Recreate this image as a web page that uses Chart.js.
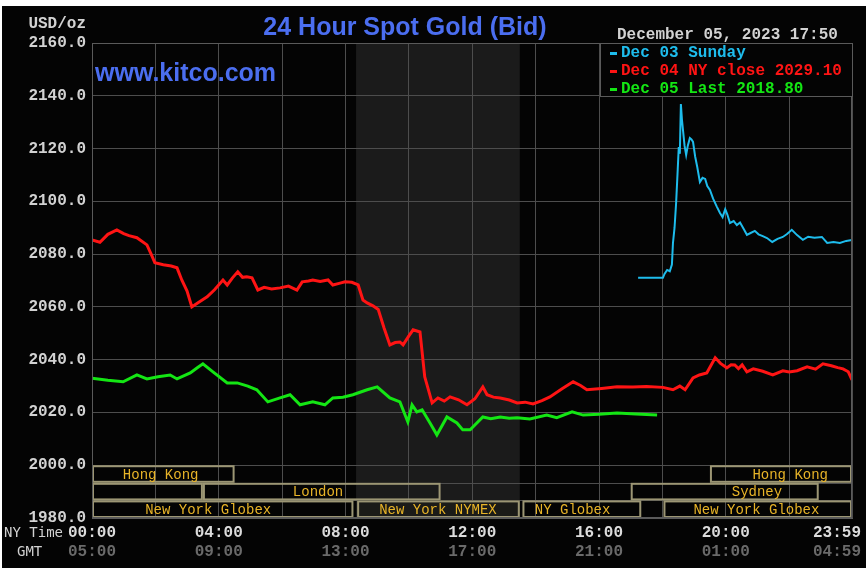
<!DOCTYPE html>
<html>
<head>
<meta charset="utf-8">
<script src="https://cdn.jsdelivr.net/npm/chart.js@4.4.1/dist/chart.umd.min.js"></script>
<style>
  html, body { margin: 0; padding: 0; background: #fff; }
  canvas { display: block; }
</style>
</head>
<body>
<canvas id="goldChart" width="868" height="577"></canvas>
<script>
// --- data (x = minutes after NY midnight) ---
const yTicks = [1980, 2000, 2020, 2040, 2060, 2080, 2100, 2120, 2140, 2160];
const gridMinutes = [0, 120, 240, 360, 480, 600, 720, 840, 960, 1080, 1200, 1320, 1439];
const labelMinutes = [0, 240, 480, 720, 960, 1200, 1439];
const nyTimeLabels = ['00:00', '04:00', '08:00', '12:00', '16:00', '20:00', '23:59'];
const gmtLabels = ['05:00', '09:00', '13:00', '17:00', '21:00', '01:00', '04:59'];

const sundayMinutes = [1034, 1081, 1084, 1089, 1094, 1098, 1100, 1103, 1106, 1109, 1111, 1113, 1115, 1117, 1119, 1122, 1125, 1128, 1132, 1135, 1138, 1142, 1146, 1151, 1156, 1161, 1165, 1170, 1176, 1183, 1189, 1194, 1199, 1203, 1208, 1215, 1221, 1227, 1234, 1240, 1247, 1255, 1262, 1270, 1278, 1288, 1298, 1308, 1316, 1325, 1335, 1346, 1356, 1368, 1382, 1392, 1404, 1416, 1428, 1439];
const sundayValues = [2071, 2071, 2072.5, 2074, 2073.5, 2076, 2084.2, 2090, 2099.4, 2112, 2120.6, 2118, 2136.9, 2131, 2127, 2121, 2117.6, 2121, 2124, 2123.5, 2122.5, 2117, 2113, 2107.3, 2108.9, 2108.5, 2105.8, 2104.3, 2101, 2098, 2095.6, 2094, 2097, 2095, 2091.8, 2092.5, 2091, 2092, 2089.5, 2087.3, 2088, 2088.8, 2087.5, 2086.8, 2086.1, 2084.6, 2085.8, 2086.5, 2087.6, 2089.2, 2087.2, 2085.4, 2086.6, 2086.2, 2086.5, 2084.2, 2084.6, 2084.2, 2085, 2085.4];

const closeMinutes = [0, 15, 30, 47, 60, 70, 85, 104, 112, 119, 135, 150, 161, 170, 180, 189, 200, 218, 232, 248, 256, 266, 276, 285, 293, 303, 314, 326, 340, 356, 372, 388, 398, 410, 418, 432, 447, 456, 468, 479, 492, 504, 513, 521, 532, 542, 553, 564, 574, 583, 589, 600, 608, 621, 630, 644, 655, 667, 678, 694, 710, 725, 740, 748, 760, 773, 790, 805, 820, 835, 852, 867, 890, 911, 925, 937, 965, 994, 1024, 1050, 1081, 1100, 1113, 1123, 1138, 1150, 1164, 1180, 1190, 1202, 1210, 1217, 1224, 1231, 1240, 1252, 1270, 1289, 1308, 1320, 1335, 1354, 1370, 1384, 1400, 1412, 1422, 1432, 1439];
const closeValues = [2085.4, 2084.5, 2087.5, 2089.2, 2087.8, 2087, 2086.2, 2083.5, 2080, 2076.7, 2076, 2075.5, 2074.8, 2070.2, 2066, 2060, 2061.5, 2063.8, 2066.5, 2070.2, 2068.3, 2071, 2073.3, 2071.2, 2071.4, 2071, 2066.4, 2067.4, 2066.8, 2067.2, 2067.9, 2066.4, 2069.5, 2069.8, 2070.2, 2069.6, 2070.2, 2068.3, 2068.9, 2069.5, 2069.3, 2068.3, 2062.6, 2061.5, 2060.4, 2059, 2052, 2045.6, 2046.5, 2046.7, 2045.6, 2049, 2051.3, 2050.5, 2033.5, 2023.6, 2025.5, 2024.3, 2025.9, 2024.8, 2022.9, 2025.2, 2029.7, 2026.7, 2025.8, 2025.5, 2024.7, 2023.6, 2023.9, 2023.2, 2024.5, 2025.9, 2029, 2031.6, 2030.2, 2028.6, 2029.1, 2029.7, 2029.6, 2029.8, 2029.5, 2028.6, 2030, 2028.6, 2033.1, 2034.2, 2035, 2040.7, 2038.6, 2036.9, 2038.1, 2038, 2036.6, 2038, 2035.4, 2036.5, 2035.6, 2034.2, 2035.8, 2035.3, 2035.8, 2037.3, 2036.4, 2038.4, 2037.7, 2037, 2036.5, 2035.4, 2032.3];

const lastMinutes = [0, 30, 59, 85, 104, 125, 148, 161, 186, 200, 210, 229, 256, 275, 295, 312, 333, 356, 375, 394, 418, 441, 456, 475, 494, 521, 540, 564, 583, 598, 606, 615, 625, 640, 653, 672, 691, 702, 716, 740, 755, 773, 790, 805, 829, 861, 880, 909, 930, 960, 994, 1030, 1070];
const lastValues = [2033, 2032.2, 2031.6, 2034.2, 2032.7, 2033.5, 2034.2, 2032.7, 2035, 2037, 2038.4, 2035.4, 2031.2, 2031.2, 2030, 2028.6, 2024, 2025.5, 2026.7, 2022.9, 2024, 2022.9, 2025.5, 2025.8, 2026.7, 2028.6, 2029.7, 2025.5, 2024, 2016.4, 2022.9, 2020.2, 2021, 2016, 2011.5, 2018.3, 2016, 2013.4, 2013.4, 2018.3, 2017.6, 2018.3, 2017.8, 2018, 2017.5, 2019, 2018, 2020.2, 2019, 2019.3, 2019.8, 2019.4, 2019];

// trading sessions: rows 0..2 from top of the band under 2000
const sessionNames = ['Hong Kong', 'Hong Kong', '', 'London', 'Sydney', 'New York Globex', 'New York NYMEX', 'NY Globex', 'New York Globex'];
const sessionRows = [0, 0, 1, 1, 1, 2, 2, 2, 2];
const sessionStart = [0, 1170, 0, 210, 1020, 0, 502, 815, 1082];
const sessionEnd = [270, 1439, 210, 660, 1376, 495, 810, 1040, 1439];
const sessionTextAt = [130, 1322, 105, 428, 1259, 220, 655, 910, 1258];
const nymexShade = [500, 810];

const MONO = '"Liberation Mono", "DejaVu Sans Mono", monospace';

function toPoints(xs, ys) {
  return xs.map((x, i) => ({ x: x, y: ys[i] }));
}

const kitcoPlugin = {
  id: 'kitco',
  beforeDraw(chart) {
    const { ctx, chartArea: a, scales: { x } } = chart;
    ctx.save();
    ctx.fillStyle = '#040404';
    ctx.fillRect(2, 6, 864, 562);
    // NYMEX pit hours shading
    ctx.fillStyle = '#1b1b1b';
    const x0 = x.getPixelForValue(nymexShade[0]);
    const x1 = x.getPixelForValue(nymexShade[1]);
    ctx.fillRect(x0, a.top, x1 - x0, a.bottom - a.top);
    ctx.restore();
  },
  afterDraw(chart) {
    const { ctx, chartArea: a, scales: { x, y } } = chart;
    ctx.save();

    // session boxes
    const rowH = (y.getPixelForValue(1980) - y.getPixelForValue(2000)) / 3;
    const top0 = y.getPixelForValue(2000);
    ctx.strokeStyle = '#4d4d4d';
    ctx.lineWidth = 1;
    for (let r = 1; r < 3; r++) {
      ctx.beginPath();
      ctx.moveTo(a.left, Math.round(top0 + r * rowH) + 0.5);
      ctx.lineTo(a.right, Math.round(top0 + r * rowH) + 0.5);
      ctx.stroke();
    }
    ctx.font = '14px ' + MONO;
    ctx.textAlign = 'center';
    ctx.textBaseline = 'middle';
    sessionNames.forEach((name, i) => {
      const bx0 = x.getPixelForValue(sessionStart[i]);
      const bx1 = x.getPixelForValue(sessionEnd[i]);
      const by = top0 + sessionRows[i] * rowH;
      if (name === 'New York NYMEX') {
        ctx.fillStyle = '#1b1b18';
        ctx.fillRect(bx0, by, bx1 - bx0, rowH);
      }
      ctx.strokeStyle = '#9c9674';
      ctx.lineWidth = 2;
      ctx.strokeRect(bx0 + 1, by + 1, bx1 - bx0 - 2, rowH - 2);
      ctx.fillStyle = '#e8b428';
      ctx.fillText(name, x.getPixelForValue(sessionTextAt[i]), by + rowH / 2 + 1);
    });

    // frame
    ctx.strokeStyle = '#5a5a5a';
    ctx.lineWidth = 1;
    ctx.strokeRect(a.left + 0.5, a.top + 0.5, a.right - a.left - 1, a.bottom - a.top - 1);

    // titles
    ctx.textBaseline = 'alphabetic';
    ctx.fillStyle = '#4b6ef0';
    ctx.font = 'bold 25px "Liberation Sans", Arial, sans-serif';
    ctx.textAlign = 'center';
    ctx.fillText('24 Hour Spot Gold (Bid)', 405, 35);
    ctx.textAlign = 'left';
    ctx.fillText('www.kitco.com', 95, 81);

    ctx.font = 'bold 16px ' + MONO;
    ctx.fillStyle = '#d2d2d2';
    ctx.textAlign = 'right';
    ctx.fillText('USD/oz', 86, 28);
    ctx.textAlign = 'left';
    ctx.fillText('December 05, 2023 17:50', 617, 39);

    // legend box
    const lx = 600, ly = 43, lw = 253, lh = 54;
    ctx.fillStyle = '#040404';
    ctx.fillRect(lx, ly, lw, lh);
    ctx.strokeStyle = '#5a5a5a';
    ctx.strokeRect(lx + 0.5, ly + 0.5, lw - 1, lh - 1);
    ctx.textBaseline = 'middle';
    chart.data.datasets.forEach((ds, i) => {
      const ty = ly + 10 + i * 18;
      ctx.fillStyle = ds.borderColor;
      ctx.fillRect(lx + 10, ty - 1, 7, 3);
      ctx.fillText(ds.label, lx + 21, ty);
    });

    // time axis labels
    ctx.font = '14px "DejaVu Sans Mono", monospace';
    ctx.fillStyle = '#d2d2d2';
    ctx.textAlign = 'left';
    ctx.fillText('NY Time', 4, 533);
    ctx.fillText('GMT', 17, 552);
    ctx.font = 'bold 16px ' + MONO;
    labelMinutes.forEach((m, i) => {
      let px = x.getPixelForValue(m);
      if (i === labelMinutes.length - 1) {
        ctx.textAlign = 'right';
        px = 861;
      } else {
        ctx.textAlign = 'center';
      }
      ctx.fillStyle = '#dcdcdc';
      ctx.fillText(nyTimeLabels[i], px, 533);
      ctx.fillStyle = '#6a6a6a';
      ctx.fillText(gmtLabels[i], px, 552);
    });
    ctx.restore();
  }
};

const ctx = document.getElementById('goldChart').getContext('2d');
new Chart(ctx, {
  type: 'line',
  data: {
    datasets: [
      {
        label: 'Dec 03 Sunday',
        data: toPoints(sundayMinutes, sundayValues),
        borderColor: '#1ebcec',
        borderWidth: 2
      },
      {
        label: 'Dec 04 NY close 2029.10',
        data: toPoints(closeMinutes, closeValues),
        borderColor: '#ff1414',
        borderWidth: 3
      },
      {
        label: 'Dec 05 Last 2018.80',
        data: toPoints(lastMinutes, lastValues),
        borderColor: '#14e614',
        borderWidth: 3
      }
    ]
  },
  options: {
    responsive: false,
    animation: false,
    devicePixelRatio: 1,
    layout: { padding: { left: 0, top: 43, right: 16, bottom: 0 } },
    elements: { point: { radius: 0 }, line: { tension: 0 } },
    plugins: {
      legend: { display: false },
      tooltip: { enabled: false },
      title: { display: false }
    },
    scales: {
      x: {
        type: 'linear',
        min: 0,
        max: 1439,
        afterBuildTicks: s => { s.ticks = gridMinutes.map(v => ({ value: v })); },
        afterFit: s => { s.height = 59; },
        ticks: { display: false },
        grid: { color: '#4d4d4d', drawTicks: false },
        border: { color: '#5a5a5a' }
      },
      y: {
        min: 1980,
        max: 2160,
        afterBuildTicks: s => { s.ticks = yTicks.map(v => ({ value: v })); },
        afterFit: s => { s.width = 92; },
        ticks: {
          padding: 6,
          color: '#d2d2d2',
          font: { family: MONO, size: 16, weight: 'bold' },
          callback: v => v.toFixed(1)
        },
        grid: { color: '#4d4d4d', drawTicks: false },
        border: { color: '#5a5a5a' }
      }
    }
  },
  plugins: [kitcoPlugin]
});
</script>
</body>
</html>
